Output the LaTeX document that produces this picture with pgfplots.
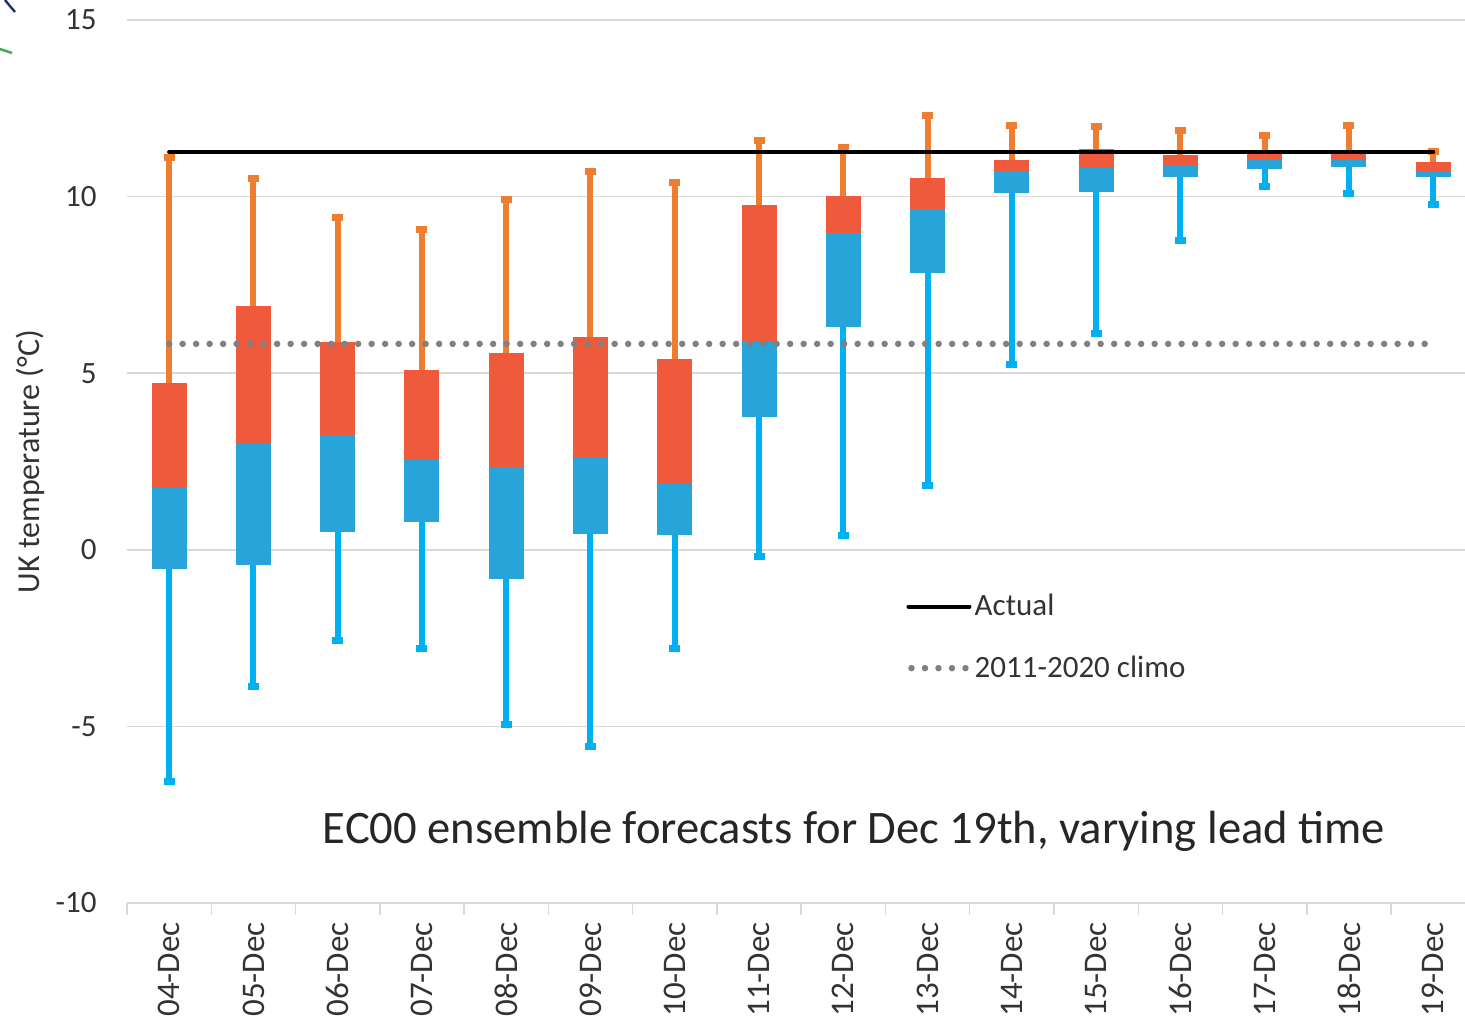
\documentclass[border=0pt]{standalone}
\usepackage{fontspec}
\setmainfont{Carlito}
\usepackage{pgfplots}
\usepackage{pgfplotstable}
\pgfplotsset{compat=1.18}

\definecolor{whiskorange}{HTML}{ED7D31}
\definecolor{boxred}{HTML}{F05A3C}
\definecolor{boxblue}{HTML}{27A5DA}
\definecolor{whiskcyan}{HTML}{00B0F0}
\definecolor{gridgray}{HTML}{D9D9D9}
\definecolor{climogray}{HTML}{808080}
\definecolor{txt}{HTML}{333333}

\pgfplotsset{
  lineleg/.style={legend image code/.code={\draw[##1] (0pt,0pt) -- (30.5pt,0pt);}},
  dotleg/.style={legend image code/.code={\draw[##1] (1.5pt,0pt) -- (30.5pt,0pt);}},
  nomark/.style={only marks, mark size=0pt, mark options={draw=none, fill=none}, forget plot},
}

% x: lead day, lw/uw: whisker ends, lq/uq: box ends, mid: colour split
\pgfplotstableread{
x  lw     lq     mid    uq     uw
0  -6.55  -0.55  1.74   4.73   11.10
1  -3.88  -0.43  2.99   6.90   10.52
2  -2.56  0.50   3.24   5.88   9.40
3  -2.79  0.79   2.54   5.09   9.08
4  -4.96  -0.84  2.34   5.56   9.91
5  -5.56  0.44   2.60   6.02   10.72
6  -2.79  0.42   1.86   5.40   10.39
7  -0.18  3.77   5.89   9.77   11.60
8  0.40   6.31   8.98   10.03  11.40
9  1.83   7.84   9.65   10.54  12.30
10 5.26   10.11  10.73  11.04  12.01
11 6.12   10.14  10.80  11.34  11.98
12 8.76   10.55  10.89  11.18  11.86
13 10.29  10.78  11.06  11.20  11.73
14 10.09  10.85  11.06  11.20  12.01
15 9.78   10.55  10.70  10.98  11.29
}\ens

\pgfplotstableread{
x  y
0  11.26
15 11.26
}\actual

\pgfplotstableread{
x  y
0  5.83
15 5.83
}\climo

\begin{document}
\begin{tikzpicture}
\begin{axis}[
  x=42.135pt, y=17.66pt,
  xmin=-0.5, xmax=15.378,
  ymin=-10, ymax=15,
  clip=false,
  axis x line*=bottom, axis y line*=left,
  y axis line style={draw=none},
  x axis line style={gridgray, line width=0.75pt},
  xtick={0,...,15},
  xticklabels={04-Dec,05-Dec,06-Dec,07-Dec,08-Dec,09-Dec,10-Dec,11-Dec,12-Dec,13-Dec,14-Dec,15-Dec,16-Dec,17-Dec,18-Dec,19-Dec},
  minor xtick={-0.5,0.5,...,14.5},
  ytick={-10,-5,0,5,10,15},
  yticklabels={-10,-5,0,5,10,15},
  major tick length=0pt,
  minor tick length=6pt,
  tick align=outside,
  every minor tick/.append style={gridgray, line width=0.75pt},
  ymajorgrids,
  grid style={gridgray, line width=0.75pt},
  xticklabel style={yshift=-9.5pt, rotate=90, anchor=east, inner sep=0pt,
    font=\fontsize{16.5}{19}\selectfont, text=txt},
  yticklabel style={xshift=-15pt, anchor=east, inner sep=0pt,
    font=\fontsize{15.5}{18}\selectfont, text=txt},
  ylabel={UK temperature (°C)},
  every axis y label/.style={at={(axis description cs:0,0.5)}, xshift=-48.5pt,
    rotate=90, anchor=center, font=\fontsize{16}{19}\selectfont, text=txt},
  legend style={draw=none, fill=none, at={(axis cs:8.745,-2.48)}, anchor=west,
    inner sep=0pt, row sep=18.5pt, column sep=1pt,
    nodes={inner sep=0pt, font=\fontsize{15.5}{18}\selectfont, text=txt}},
  legend cell align=left,
]
% upper whiskers
\addplot[nomark,
  error bars/.cd, y dir=plus, y explicit,
  error bar style={line width=3pt, whiskorange},
  error mark=|,
  error mark options={line width=3.5pt, mark size=2.75pt, draw=whiskorange}]
  table[x=x, y=uq, y error plus expr=\thisrow{uw}-\thisrow{uq}] {\ens};
% lower whiskers
\addplot[nomark,
  error bars/.cd, y dir=minus, y explicit,
  error bar style={line width=3pt, whiskcyan},
  error mark=|,
  error mark options={line width=3.5pt, mark size=2.75pt, draw=whiskcyan}]
  table[x=x, y=lq, y error minus expr=\thisrow{lq}-\thisrow{lw}] {\ens};
% upper box
\addplot[nomark,
  error bars/.cd, y dir=plus, y explicit,
  error bar style={line width=17.5pt, boxred},
  error mark options={mark size=0pt, draw=none, fill=none}]
  table[x=x, y=mid, y error plus expr=\thisrow{uq}-\thisrow{mid}] {\ens};
% lower box
\addplot[nomark,
  error bars/.cd, y dir=minus, y explicit,
  error bar style={line width=17.5pt, boxblue},
  error mark options={mark size=0pt, draw=none, fill=none}]
  table[x=x, y=mid, y error minus expr=\thisrow{mid}-\thisrow{lq}] {\ens};

\addplot[black, line width=2pt, line cap=round, lineleg]
  table[x=x, y=y] {\actual};
\addlegendentry{Actual}
\addplot[climogray, line width=3.25pt, line cap=round, dash pattern=on 0pt off 6.75pt, dotleg]
  table[x=x, y=y] {\climo};
\addlegendentry{2011-2020 climo}

\node[anchor=base west, inner sep=0pt, font=\fontsize{23.3}{28}\selectfont, text=black!85]
  at (axis cs:1.82,-8.315) {EC00 ensemble forecasts for Dec 19th, varying lead time};
\end{axis}
% corner of a logo cut off by the crop
\draw[color={rgb,255:red,30;green,50;blue,100}, line width=1.2pt] (-61pt,451.5pt) .. controls (-59pt,449pt) .. (-56pt,445.5pt);
\draw[color={rgb,255:red,60;green,170;blue,80}, line width=1.2pt] (-63.5pt,427pt) -- (-57.5pt,425pt);
\pgfresetboundingbox
\useasboundingbox (-63.5pt,-56.5pt) rectangle (669pt,451.5pt);
\end{tikzpicture}
\end{document}
